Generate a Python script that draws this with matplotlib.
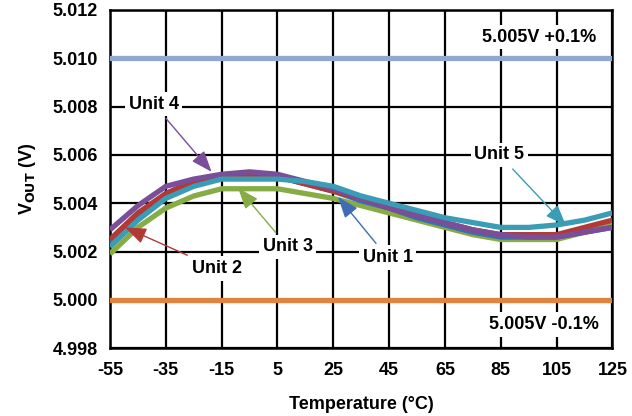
import matplotlib
matplotlib.use("Agg")
import matplotlib.pyplot as plt

plt.rcParams['font.family'] = ['Liberation Sans', 'DejaVu Sans']
plt.rcParams['font.weight'] = 'bold'

# temperature points (deg C) and output voltage per unit (V)
temp = [-55, -45, -35, -25, -15, -5, 5, 15, 25, 35, 45, 55, 65, 75, 85, 95, 105, 115, 125]
unit1 = [5.0024, 5.0035, 5.0044, 5.0049, 5.0051, 5.0052, 5.0051, 5.0048, 5.0045, 5.0041, 5.0038,
         5.0034, 5.0031, 5.0028, 5.0026, 5.0026, 5.0026, 5.0028, 5.0030]
unit2 = [5.0025, 5.0036, 5.0044, 5.0049, 5.0051, 5.0052, 5.0051, 5.0048, 5.0045, 5.0042, 5.0038,
         5.0035, 5.0032, 5.0029, 5.0027, 5.0027, 5.0027, 5.0030, 5.0033]
unit3 = [5.0019, 5.0030, 5.0038, 5.0043, 5.0046, 5.0046, 5.0046, 5.0044, 5.0042, 5.0039, 5.0036,
         5.0033, 5.0030, 5.0027, 5.0025, 5.0025, 5.0025, 5.0028, 5.0032]
unit4 = [5.0029, 5.0039, 5.0047, 5.0050, 5.0052, 5.0053, 5.0052, 5.0049, 5.0046, 5.0042, 5.0038,
         5.0035, 5.0032, 5.0029, 5.0027, 5.0026, 5.0026, 5.0028, 5.0030]
unit5 = [5.0022, 5.0033, 5.0042, 5.0047, 5.0050, 5.0050, 5.0050, 5.0049, 5.0047, 5.0043, 5.0040,
         5.0037, 5.0034, 5.0032, 5.0030, 5.0030, 5.0031, 5.0033, 5.0036]
upper_limit = 5.010
lower_limit = 5.000

xticks = [-55, -35, -15, 5, 25, 45, 65, 85, 105, 125]
yticks = [4.998, 5.000, 5.002, 5.004, 5.006, 5.008, 5.010, 5.012]

c1, c2, c3, c4, c5 = '#3F6DB3', '#B23A36', '#86AD45', '#7A4E98', '#3A9CB5'
fs = 13

fig = plt.figure(figsize=(6.32, 4.16), dpi=100)
ax = fig.add_axes([0.174, 0.163, 0.795, 0.813])

ax.axhline(upper_limit, color='#8EA9D3', lw=3.8, zorder=3)
ax.axhline(lower_limit, color='#E3823C', lw=3.8, zorder=3)

kw = dict(lw=3.8, solid_capstyle='butt', solid_joinstyle='round')
ax.plot(temp, unit3, color=c3, zorder=4, **kw)
ax.plot(temp, unit1, color=c1, zorder=5, **kw)
ax.plot(temp, unit2, color=c2, zorder=5, **kw)
ax.plot(temp, unit4, color=c4, zorder=5, **kw)
ax.plot(temp, unit5, color=c5, zorder=6, **kw)

ax.set_xlim(-55, 125)
ax.set_ylim(4.998, 5.012)
ax.set_xticks(xticks)
ax.set_yticks(yticks)
ax.set_xticklabels([str(t) for t in xticks])
ax.set_yticklabels(['%.3f' % v for v in yticks])
ax.tick_params(length=0, labelsize=fs)
ax.tick_params(axis='x', pad=10)
ax.tick_params(axis='y', pad=9)
ax.grid(True, color='black', lw=1.6, zorder=1)
ax.set_axisbelow(True)
for s in ax.spines.values():
    s.set_linewidth(1.8)

ax.set_xlabel('Temperature (°C)', fontsize=fs, fontweight='bold', labelpad=12)
ax.set_ylabel('V$_{\\mathbf{OUT}}$ (V)', fontsize=fs, fontweight='bold', labelpad=10)

box = dict(boxstyle='square,pad=0.2', fc='white', ec='none')


def label(text, xy, xytext, color):
    ax.annotate(text, xy=xy, xytext=xytext, fontsize=fs, fontweight='bold',
                ha='center', va='center', bbox=box, zorder=8,
                arrowprops=dict(arrowstyle='-|>,head_length=1.0,head_width=0.38',
                                color=color, lw=1.0, shrinkA=2, shrinkB=0))


label('Unit 4', (-18.6, 5.0053), (-39.3, 5.0081), c4)
label('Unit 2', (-49.6, 5.0030), (-16.7, 5.0013), c2)
label('Unit 3', (-9.1, 5.00463), (8.7, 5.0022), c3)
label('Unit 1', (26.7, 5.00426), (44.5, 5.00175), c1)
label('Unit 5', (108.4, 5.00307), (84.5, 5.0060), c5)

ax.text(98.8, 5.01088, '5.005V +0.1%', fontsize=fs, fontweight='bold',
        ha='center', va='center', bbox=box, zorder=8)
ax.text(100.6, 4.99898, '5.005V -0.1%', fontsize=fs, fontweight='bold',
        ha='center', va='center', bbox=box, zorder=8)

fig.savefig('out.png', dpi=100)
